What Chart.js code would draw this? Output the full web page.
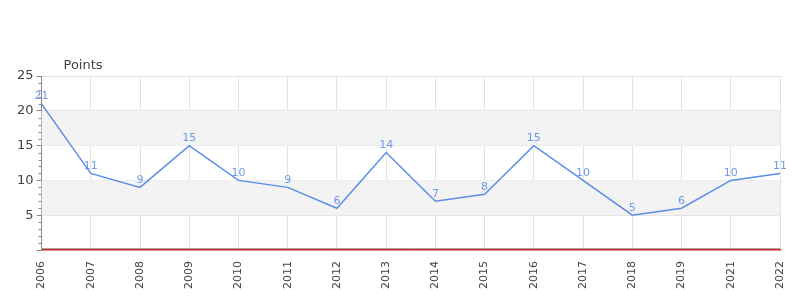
<!DOCTYPE html>
<html>
<head>
<meta charset="utf-8">
<script src="https://cdn.jsdelivr.net/npm/chart.js@4/dist/chart.umd.min.js"></script>
<style>
  html, body { margin: 0; padding: 0; background: #fff; }
  #wrap { width: 800px; height: 300px; }
</style>
</head>
<body>
<div id="wrap"><canvas id="pointsChart"></canvas></div>
<script>
var years = ["2006","2007","2008","2009","2010","2011","2012","2013","2014","2015","2016","2017","2018","2019","2021","2022"];
var points = [21, 11, 9, 15, 10, 9, 6, 14, 7, 8, 15, 10, 5, 6, 10, 11];
var bands = [[5, 10], [15, 20]];
var yMax = 25;
var yStep = 5;

var font = "'DejaVu Sans', sans-serif";

// alternating gray bands, minor ticks, axis title and value labels
var extras = {
  id: "extras",
  beforeDatasetsDraw: function (chart) {
    var c = chart.ctx, a = chart.chartArea, y = chart.scales.y;
    c.save();
    c.fillStyle = "#f3f3f3";
    bands.forEach(function (b) {
      var top = y.getPixelForValue(b[1]), bot = y.getPixelForValue(b[0]);
      c.fillRect(a.left, top, a.right - a.left, bot - top);
    });
    c.restore();
  },
  afterDatasetsDraw: function (chart) {
    var c = chart.ctx, a = chart.chartArea, y = chart.scales.y;
    c.save();
    // minor ticks
    c.strokeStyle = "#888";
    c.lineWidth = 1;
    for (var v = 0; v <= yMax; v++) {
      if (v % yStep === 0) continue;
      var py = Math.round(y.getPixelForValue(v)) + 0.5;
      c.beginPath();
      c.moveTo(a.left - 3, py);
      c.lineTo(a.left, py);
      c.stroke();
    }
    // thin gray line just above the red baseline
    var by = Math.round(y.getPixelForValue(0)) - 1.5;
    c.strokeStyle = "#aaa";
    c.beginPath();
    c.moveTo(a.left, by);
    c.lineTo(a.right, by);
    c.stroke();
    // title
    c.fillStyle = "#444";
    c.font = "13px " + font;
    c.textAlign = "left";
    c.textBaseline = "middle";
    c.fillText("Points", a.left + 22, a.top - 10);
    // value labels
    c.fillStyle = "#6f9be8";
    c.font = "11px " + font;
    c.textAlign = "center";
    c.textBaseline = "bottom";
    chart.getDatasetMeta(0).data.forEach(function (pt, i) {
      c.fillText(String(points[i]), pt.x, pt.y - 2);
    });
    c.restore();
  }
};

new Chart(document.getElementById("pointsChart"), {
  type: "line",
  data: {
    labels: years,
    datasets: [{
      data: points,
      borderColor: "#5b8ee6",
      borderWidth: 1.5,
      pointRadius: 0,
      tension: 0,
      fill: false
    }]
  },
  options: {
    responsive: true,
    maintainAspectRatio: false,
    animation: false,
    layout: { padding: { top: 76, right: 20, left: 14, bottom: 0 } },
    plugins: { legend: { display: false }, tooltip: { enabled: false } },
    scales: {
      x: {
        offset: false,
        afterFit: function (s) { s.paddingRight = 0; s.paddingLeft = 0; },
        grid: { color: "#e3e3e3", drawTicks: false },
        border: { color: "#d42020", width: 1.5 },
        ticks: {
          color: "#444",
          font: { family: font, size: 11 },
          minRotation: 90,
          maxRotation: 90,
          autoSkip: false,
          padding: 11
        }
      },
      y: {
        min: 0,
        max: yMax,
        grid: {
          color: function (ctx) { return ctx.tick.value === 0 ? "rgba(0,0,0,0)" : "#e3e3e3"; },
          tickColor: "#888",
          tickLength: 5
        },
        border: { color: "#888", width: 1 },
        ticks: {
          stepSize: yStep,
          color: "#444",
          font: { family: font, size: 13 },
          padding: 3,
          callback: function (v) { return v === 0 ? "" : v; }
        }
      }
    }
  },
  plugins: [extras]
});
</script>
</body>
</html>
